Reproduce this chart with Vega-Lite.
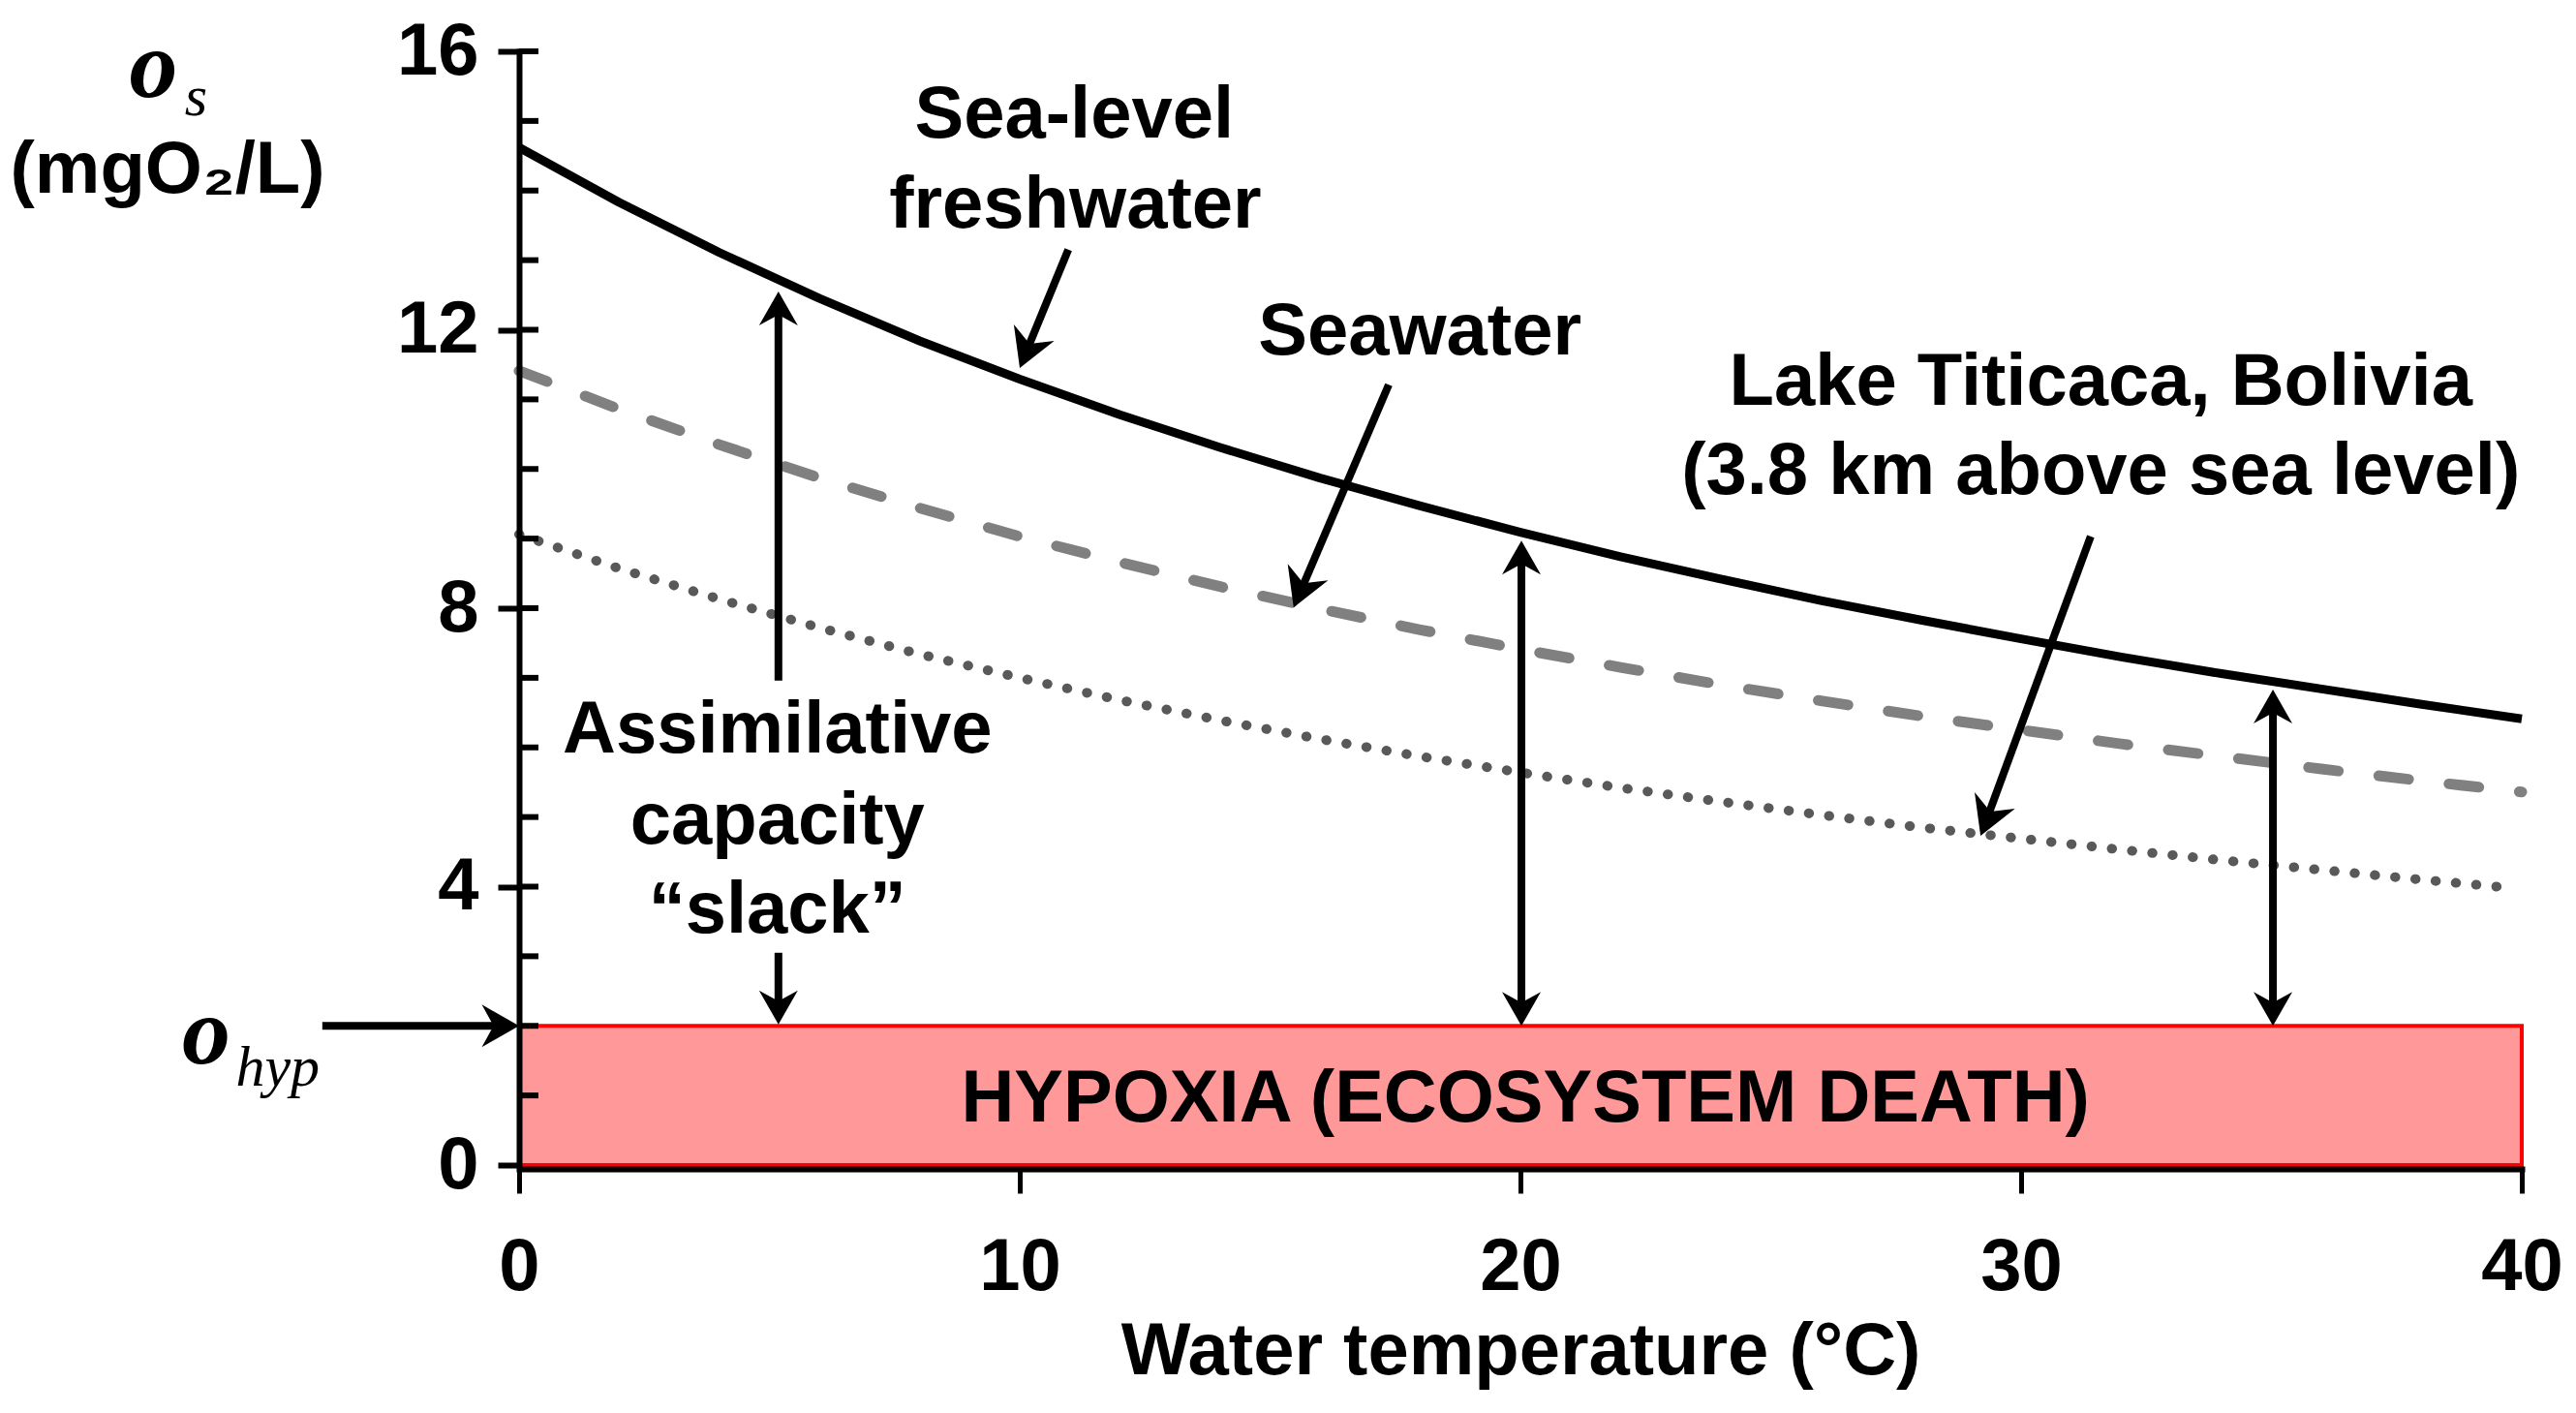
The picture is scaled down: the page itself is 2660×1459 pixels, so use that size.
{
  "$schema": "https://vega.github.io/schema/vega-lite/v6.json",
  "width": 2068,
  "height": 1150,
  "autosize": {"type": "none"},
  "padding": {"left": 536, "top": 53, "right": 56, "bottom": 256},
  "background": "white",
  "config": {"view": {"stroke": null}, "font": "Liberation Sans"},
  "datasets": {
    "hyp": [{"x": 0, "x2": 40, "y": 0, "y2": 2}],
    "fresh": [
      {"t": 0, "o": 14.62}, {"t": 2, "o": 13.83}, {"t": 4, "o": 13.11}, {"t": 6, "o": 12.45},
      {"t": 8, "o": 11.84}, {"t": 10, "o": 11.29}, {"t": 12, "o": 10.78}, {"t": 14, "o": 10.31},
      {"t": 16, "o": 9.87}, {"t": 18, "o": 9.47}, {"t": 20, "o": 9.09}, {"t": 22, "o": 8.74},
      {"t": 24, "o": 8.42}, {"t": 26, "o": 8.11}, {"t": 28, "o": 7.83}, {"t": 30, "o": 7.56},
      {"t": 32, "o": 7.30}, {"t": 34, "o": 7.06}, {"t": 36, "o": 6.84}, {"t": 38, "o": 6.62},
      {"t": 40, "o": 6.41}
    ],
    "sea": [
      {"t": 0, "o": 11.41}, {"t": 2, "o": 10.86}, {"t": 4, "o": 10.35}, {"t": 6, "o": 9.87},
      {"t": 8, "o": 9.44}, {"t": 10, "o": 9.03}, {"t": 12, "o": 8.66}, {"t": 14, "o": 8.31},
      {"t": 16, "o": 7.99}, {"t": 18, "o": 7.69}, {"t": 20, "o": 7.41}, {"t": 22, "o": 7.15},
      {"t": 24, "o": 6.90}, {"t": 26, "o": 6.67}, {"t": 28, "o": 6.45}, {"t": 30, "o": 6.25},
      {"t": 32, "o": 6.05}, {"t": 34, "o": 5.87}, {"t": 36, "o": 5.69}, {"t": 38, "o": 5.52},
      {"t": 40, "o": 5.36}
    ],
    "titi": [
      {"t": 0, "o": 9.06}, {"t": 2, "o": 8.57}, {"t": 4, "o": 8.13}, {"t": 6, "o": 7.72},
      {"t": 8, "o": 7.34}, {"t": 10, "o": 7.00}, {"t": 12, "o": 6.68}, {"t": 14, "o": 6.39},
      {"t": 16, "o": 6.12}, {"t": 18, "o": 5.87}, {"t": 20, "o": 5.64}, {"t": 22, "o": 5.42},
      {"t": 24, "o": 5.22}, {"t": 26, "o": 5.03}, {"t": 28, "o": 4.85}, {"t": 30, "o": 4.69},
      {"t": 32, "o": 4.53}, {"t": 34, "o": 4.38}, {"t": 36, "o": 4.24}, {"t": 38, "o": 4.10},
      {"t": 39.8, "o": 3.98}
    ],
    "minor": [
      {"v": 1}, {"v": 2}, {"v": 3}, {"v": 4}, {"v": 5}, {"v": 6}, {"v": 7}, {"v": 8},
      {"v": 9}, {"v": 10}, {"v": 11}, {"v": 12}, {"v": 13}, {"v": 14}, {"v": 15}, {"v": 16}
    ],
    "shafts": [
      {"x": 5.18, "y": 6.96, "x2": 5.18, "y2": 12.25},
      {"x": 5.18, "y": 3.05, "x2": 5.18, "y2": 2.3},
      {"x": 20.02, "y": 2.3, "x2": 20.02, "y2": 8.67},
      {"x": 35.03, "y": 2.3, "x2": 35.03, "y2": 6.53},
      {"x": -3.93, "y": 2, "x2": -0.4, "y2": 2},
      {"x": 10.97, "y": 13.15, "x2": 10.18, "y2": 11.77},
      {"x": 17.37, "y": 11.21, "x2": 15.66, "y2": 8.33},
      {"x": 31.39, "y": 9.03, "x2": 29.36, "y2": 5.06}
    ],
    "headsUp": [
      {"x": 5.18, "y": 12.55}, {"x": 20.02, "y": 8.97}, {"x": 35.03, "y": 6.83}
    ],
    "headsDown": [
      {"x": 5.18, "y": 2.02}, {"x": 20.02, "y": 2.0}, {"x": 35.03, "y": 2.0}
    ],
    "headsRight": [{"x": 0, "y": 2}],
    "headsSlant": [
      {"x": 10.0, "y": 11.45}, {"x": 15.47, "y": 8.01}, {"x": 29.19, "y": 4.73}
    ],
    "labels": [
      {"text": "Sea-level", "x": 11.09, "y": 14.76},
      {"text": "freshwater", "x": 11.11, "y": 13.47},
      {"text": "Seawater", "x": 17.99, "y": 11.645},
      {"text": "Lake Titicaca, Bolivia", "x": 31.59, "y": 10.92},
      {"text": "(3.8 km above sea level)", "x": 31.59, "y": 9.64},
      {"text": "Assimilative", "x": 5.16, "y": 5.93},
      {"text": "capacity", "x": 5.16, "y": 4.62},
      {"text": "“slack”", "x": 5.16, "y": 3.34},
      {"text": "HYPOXIA (ECOSYSTEM DEATH)", "x": 20.1, "y": 0.63},
      {"text": "(mgO₂/L)", "x": -7.02, "y": 13.97}
    ],
    "symbols": [
      {"text": "o", "x": -7.3, "y": 15.34},
      {"text": "o", "x": -6.25, "y": 1.46}
    ],
    "subs": [
      {"text": "s", "x": -6.68, "y": 15.08},
      {"text": "hyp", "x": -5.66, "y": 1.14}
    ]
  },
  "layer": [
    {
      "data": {"name": "hyp"},
      "mark": {"type": "rect", "fill": "#FF9999", "stroke": "#FF0000", "strokeWidth": 4},
      "encoding": {
        "x": {
          "field": "x", "type": "quantitative",
          "scale": {"domain": [0, 40], "nice": false, "zero": false},
          "axis": {
            "values": [0, 10, 20, 30, 40], "format": "d", "tickSize": 25, "tickWidth": 5, "tickColor": "black",
            "domainColor": "black", "domainWidth": 6, "domainCap": "square", "offset": 4,
            "labelFont": "Liberation Sans", "labelFontWeight": "bold", "labelFontSize": 76,
            "labelColor": "black", "labelPadding": 39, "labelFlush": false, "labelOverlap": false,
            "title": "Water temperature (°C)", "titleFont": "Liberation Sans", "titleFontWeight": "bold",
            "titleFontSize": 76, "titleColor": "black", "titlePadding": 12, "grid": false, "zindex": 1
          }
        },
        "x2": {"field": "x2"},
        "y": {
          "field": "y", "type": "quantitative",
          "scale": {"domain": [0, 16], "nice": false, "zero": false},
          "axis": {
            "values": [0, 4, 8, 12, 16], "format": "d", "tickSize": 22, "tickWidth": 6, "tickColor": "black",
            "domainColor": "black", "domainWidth": 6, "domainCap": "square",
            "labelFont": "Liberation Sans", "labelFontWeight": "bold", "labelFontSize": 76,
            "labelColor": "black", "labelPadding": 20, "labelFlush": false, "labelOverlap": false,
            "title": null, "grid": false, "zindex": 1
          }
        },
        "y2": {"field": "y2"}
      }
    },
    {
      "data": {"name": "titi"},
      "mark": {"type": "line", "color": "#595959", "strokeWidth": 10, "strokeCap": "round", "strokeDash": [0.5, 20.5]},
      "encoding": {
        "x": {"field": "t", "type": "quantitative"},
        "y": {"field": "o", "type": "quantitative"}
      }
    },
    {
      "data": {"name": "sea"},
      "mark": {"type": "line", "color": "#808080", "strokeWidth": 11, "strokeCap": "round", "strokeDash": [31, 42]},
      "encoding": {
        "x": {"field": "t", "type": "quantitative"},
        "y": {"field": "o", "type": "quantitative"}
      }
    },
    {
      "data": {"name": "fresh"},
      "mark": {"type": "line", "color": "#000000", "strokeWidth": 9, "strokeJoin": "round"},
      "encoding": {
        "x": {"field": "t", "type": "quantitative"},
        "y": {"field": "o", "type": "quantitative"}
      }
    },
    {
      "data": {"name": "minor"},
      "mark": {"type": "tick", "orient": "horizontal", "size": 20, "thickness": 6, "xOffset": 10, "color": "black", "opacity": 1},
      "encoding": {
        "x": {"datum": 0, "type": "quantitative"},
        "y": {"field": "v", "type": "quantitative"}
      }
    },
    {
      "data": {"name": "shafts"},
      "mark": {"type": "rule", "color": "black", "strokeWidth": 8},
      "encoding": {
        "x": {"field": "x", "type": "quantitative"},
        "y": {"field": "y", "type": "quantitative"},
        "x2": {"field": "x2"},
        "y2": {"field": "y2"}
      }
    },
    {
      "data": {"name": "headsUp"},
      "mark": {"type": "point", "shape": "M0,0 L-1,1.75 L0,1.2 L1,1.75 Z", "size": 1600, "filled": true, "color": "black", "opacity": 1, "strokeWidth": 0},
      "encoding": {
        "x": {"field": "x", "type": "quantitative"},
        "y": {"field": "y", "type": "quantitative"}
      }
    },
    {
      "data": {"name": "headsDown"},
      "mark": {"type": "point", "shape": "M0,0 L-1,-1.75 L0,-1.2 L1,-1.75 Z", "size": 1600, "filled": true, "color": "black", "opacity": 1, "strokeWidth": 0},
      "encoding": {
        "x": {"field": "x", "type": "quantitative"},
        "y": {"field": "y", "type": "quantitative"}
      }
    },
    {
      "data": {"name": "headsRight"},
      "mark": {"type": "point", "shape": "M0,0 L-1.75,-1 L-1.2,0 L-1.75,1 Z", "size": 1936, "filled": true, "color": "black", "opacity": 1, "strokeWidth": 0},
      "encoding": {
        "x": {"field": "x", "type": "quantitative"},
        "y": {"field": "y", "type": "quantitative"}
      }
    },
    {
      "data": {"name": "headsSlant"},
      "mark": {"type": "point", "shape": "M0,0 L-1,-1.75 L0,-1.2 L1,-1.75 Z", "size": 2025, "angle": 22, "filled": true, "color": "black", "opacity": 1, "strokeWidth": 0},
      "encoding": {
        "x": {"field": "x", "type": "quantitative"},
        "y": {"field": "y", "type": "quantitative"}
      }
    },
    {
      "data": {"name": "labels"},
      "mark": {"type": "text", "font": "Liberation Sans", "fontWeight": "bold", "fontSize": 76, "color": "black", "align": "center", "baseline": "alphabetic"},
      "encoding": {
        "x": {"field": "x", "type": "quantitative"},
        "y": {"field": "y", "type": "quantitative"},
        "text": {"field": "text"}
      }
    },
    {
      "data": {"name": "symbols"},
      "mark": {"type": "text", "font": "Liberation Serif", "fontStyle": "italic", "fontWeight": "bold", "fontSize": 100, "color": "black", "align": "center", "baseline": "alphabetic"},
      "encoding": {
        "x": {"field": "x", "type": "quantitative"},
        "y": {"field": "y", "type": "quantitative"},
        "text": {"field": "text"}
      }
    },
    {
      "data": {"name": "subs"},
      "mark": {"type": "text", "font": "Liberation Serif", "fontStyle": "italic", "fontSize": 60, "color": "black", "align": "left", "baseline": "alphabetic"},
      "encoding": {
        "x": {"field": "x", "type": "quantitative"},
        "y": {"field": "y", "type": "quantitative"},
        "text": {"field": "text"}
      }
    }
  ]
}
